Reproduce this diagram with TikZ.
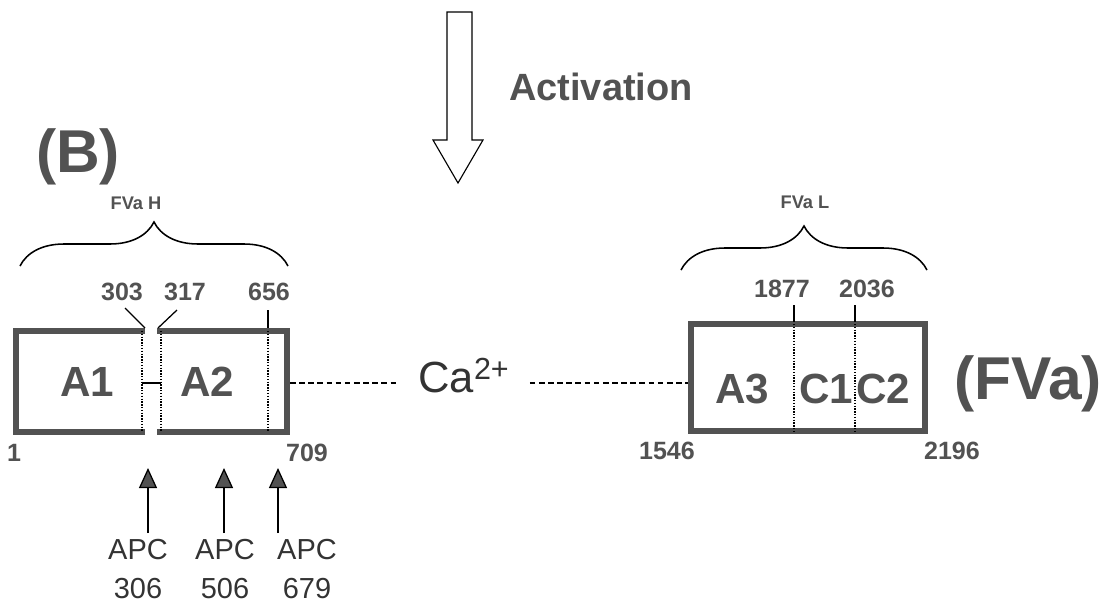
\documentclass[tikz,border=0pt]{standalone}
\usepackage{fontspec}
\setmainfont{Liberation Sans}
\usetikzlibrary{arrows.meta,positioning,decorations.pathreplacing}
\definecolor{fvgray}{gray}{0.32}
\definecolor{fvdark}{gray}{0.2}

\begin{document}
\begin{tikzpicture}[
  x=0.025cm, y=-0.025cm,
  every node/.style={inner sep=0pt,text=fvgray},
  heavy/.style={draw=fvgray,line width=0.15cm},
  dotsep/.style={black,line width=1.1pt,dash pattern=on 1pt off 1pt},
  tickln/.style={black,line width=0.9pt},
  link/.style={black,line width=0.8pt,dash pattern=on 4pt off 2.5pt},
  brc/.style={black,line width=1.1pt,decorate,decoration={brace,amplitude=1.1cm}},
  cut/.style={-{Triangle[length=0.5cm,width=0.45cm,fill=fvgray]},black,line width=0.9pt},
  actlbl/.style={font=\bfseries\fontsize{27}{30}\selectfont},
  panel/.style={font=\bfseries\fontsize{43}{48}\selectfont},
  chainlbl/.style={font=\bfseries\fontsize{13}{15}\selectfont},
  dom/.style={font=\bfseries\fontsize{30}{34}\selectfont},
  ion/.style={font=\fontsize{31}{34}\selectfont},
  resnum/.style={font=\bfseries\fontsize{17.8}{20}\selectfont},
  site/.style={font=\fontsize{20.6}{23}\selectfont,text=fvdark},
]
  \useasboundingbox (0,0) rectangle (1120,608);

  % Activation arrow (top)
  \draw[black,line width=0.8pt,line join=miter]
    (447,12) -- (472,12) -- (472,140) -- (483,140) -- (458,183) -- (433,140) -- (447,140) -- cycle;
  \node[actlbl] (act) at (601,87) {Activation};
  \node[panel] (pB) at (78,157) {(B)};

  % Heavy chain (left)
  \node[chainlbl] (fvh) at (136,203) {FVa H};
  \draw[brc] (20,266) -- (288,266);
  \draw[heavy] (145,331) -- (16,331) -- (16,432) -- (145,432);
  \draw[heavy] (157,331) -- (287,331) -- (287,432) -- (157,432);
  \draw[dotsep] (142,331) -- (142,432);
  \draw[dotsep] (161,331) -- (161,432);
  \draw[dotsep] (268,331) -- (268,432);
  \draw[tickln] (142,383) -- (161,383);
  \node[dom] (a1) at (87,382) {A1};
  \node[dom] (a2) at (207,382) {A2};
  \node[resnum] (r303) at (122,292) {303};
  \node[resnum] (r317) at (185,292) {317};
  \node[resnum] (r656) at (269,292) {656};
  \draw[tickln] (125,308) -- (145,328);
  \draw[tickln] (177,310) -- (158,328);
  \draw[tickln] (268,310) -- (268,328);
  \node[resnum] (r1) at (14,453) {1};
  \node[resnum] (r709) at (307,453) {709};

  % APC cleavage sites
  \foreach \px/\nm in {148/306,224/506,278/679} {
    \coordinate (t\nm) at (\px,533);
    \coordinate (h\nm) at (\px,468);
    \draw[cut] (t\nm) -- (h\nm);
  }
  \foreach \lx/\nm in {138/306,225/506,307/679} {
    \node[site] (apc\nm) at (\lx,550) {APC};
    \node[site] (res\nm) at (\lx,589) {\nm};
  }

  % Ca2+ bridge
  \coordinate (hEnd) at (290,383);
  \coordinate (lBeg) at (688,383);
  \node[ion,anchor=base west,inner xsep=0.5cm,text=fvdark] (ca) at (398,392) {Ca\textsuperscript{2+}};
  \draw[link] (hEnd) -- (hEnd -| ca.west);
  \draw[link] (ca.east |- lBeg) -- (lBeg);

  % Light chain (right)
  \node[chainlbl] (fvl) at (805,202) {FVa L};
  \draw[brc] (681,270) -- (927,270);
  \draw[heavy] (691,324) rectangle (925,431);
  \draw[dotsep] (794,324) -- (794,431);
  \draw[dotsep] (855,324) -- (855,431);
  \draw[tickln] (794,305) -- (794,322);
  \draw[tickln] (855,305) -- (855,322);
  \node[dom] (a3) at (742,389) {A3};
  \node[dom] (c1) at (826,389) {C1};
  \node[dom] (c2) at (883,389) {C2};
  \node[resnum] (r1877) at (782,289) {1877};
  \node[resnum] (r2036) at (867,289) {2036};
  \node[resnum] (r1546) at (667,451) {1546};
  \node[resnum] (r2196) at (952,451) {2196};
  \node[panel] (pFVa) at (1028,384) {(FVa)};
\end{tikzpicture}
\end{document}
